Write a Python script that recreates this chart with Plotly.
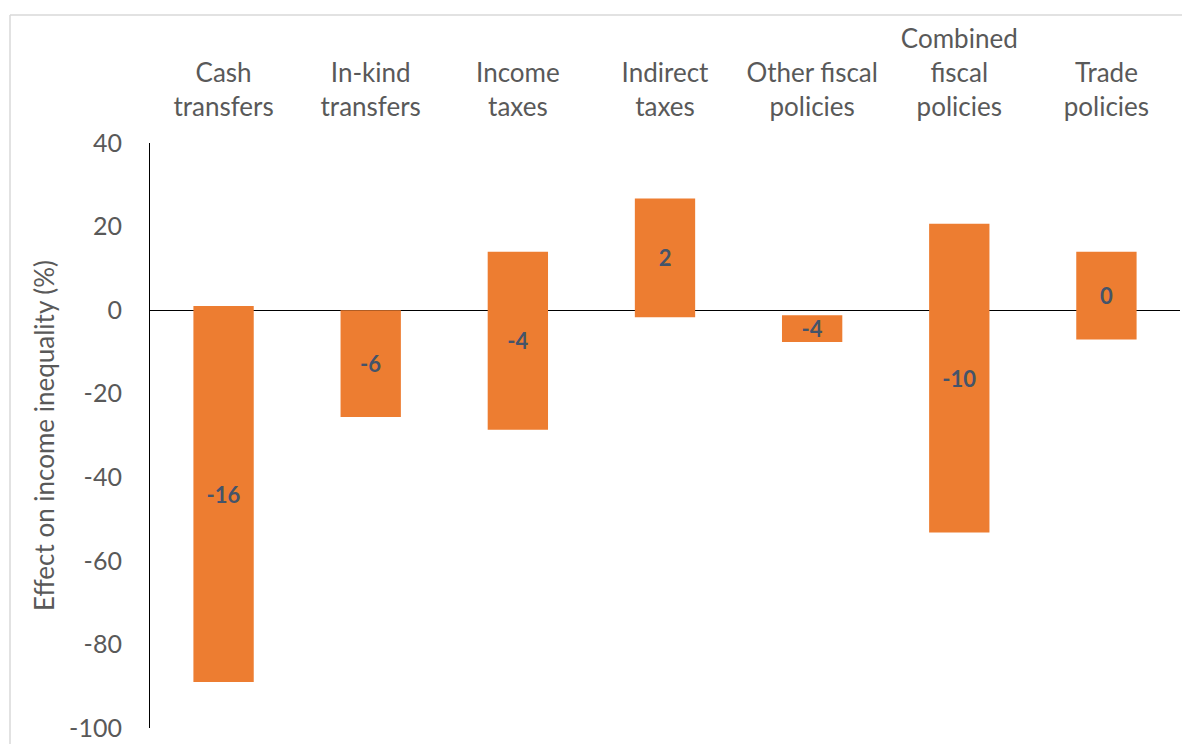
import plotly.graph_objects as go

# Policy categories (line breaks as they appear on the chart)
categories = [
    "Cash<br>transfers",
    "In-kind<br>transfers",
    "Income<br>taxes",
    "Indirect<br>taxes",
    "Other fiscal<br>policies",
    "Combined<br>fiscal<br>policies",
    "Trade<br>policies",
]
# Range of estimated effects on income inequality (%)
range_low = [-89, -25.6, -28.6, -1.7, -7.6, -53.2, -7.0]
range_high = [1.0, 0.0, 14.0, 26.7, -1.2, 20.7, 14.0]
# Typical (central) effect printed on each bar
typical_effect = [-16, -6, -4, 2, -4, -10, 0]

y_ticks = [40, 20, 0, -20, -40, -60, -80, -100]

W, H = 1182, 744
ML, MR, MT, MB = 150, 2, 143, 16

fig = go.Figure()
fig.add_trace(go.Bar(
    x=categories,
    base=range_low,
    y=[h - l for l, h in zip(range_low, range_high)],
    width=0.41,
    marker=dict(color="#ED7D31", line=dict(width=0)),
    text=[str(v) for v in typical_effect],
    textposition="inside",
    insidetextanchor="middle",
    constraintext="none",
    textangle=0,
    textfont=dict(family="Lato", size=22, color="#44546A", weight="bold"),
    hoverinfo="skip",
))

fig.update_layout(
    width=W, height=H,
    margin=dict(l=ML, r=MR, t=MT, b=MB, pad=0),
    paper_bgcolor="white",
    plot_bgcolor="white",
    showlegend=False,
    bargap=0.59,
    font=dict(family="Lato", color="#595959"),
    xaxis=dict(
        side="top",
        showgrid=False,
        zeroline=False,
        showline=False,
        ticks="",
        tickfont=dict(family="Lato", size=26, color="#595959"),
        ticklabelstandoff=21,
        fixedrange=True,
    ),
    yaxis=dict(
        range=[-100, 40],
        tickvals=y_ticks,
        ticktext=[str(v) for v in y_ticks],
        showgrid=False,
        zeroline=True,
        zerolinecolor="black",
        zerolinewidth=1.2,
        showline=True,
        linecolor="black",
        linewidth=1.2,
        ticks="",
        tickfont=dict(family="Lato", size=25, color="#595959"),
        ticklabelstandoff=22,
        title=dict(text="Effect on income inequality (%)",
                   font=dict(family="Lato", size=26, color="#595959"),
                   standoff=7),
        fixedrange=True,
    ),
    shapes=[
        # light chart-area border along the top and left edges
        dict(type="line", xref="paper", yref="paper",
             x0=-(ML - 10) / (W - ML - MR), x1=1 + MR / (W - ML - MR),
             y0=1 + (MT - 15) / (H - MT - MB), y1=1 + (MT - 15) / (H - MT - MB),
             line=dict(color="#D9D9D9", width=1.5)),
        dict(type="line", xref="paper", yref="paper",
             x0=-(ML - 10) / (W - ML - MR), x1=-(ML - 10) / (W - ML - MR),
             y0=-MB / (H - MT - MB), y1=1 + (MT - 15) / (H - MT - MB),
             line=dict(color="#D9D9D9", width=1.5)),
    ],
)

fig.write_html("out.html")
